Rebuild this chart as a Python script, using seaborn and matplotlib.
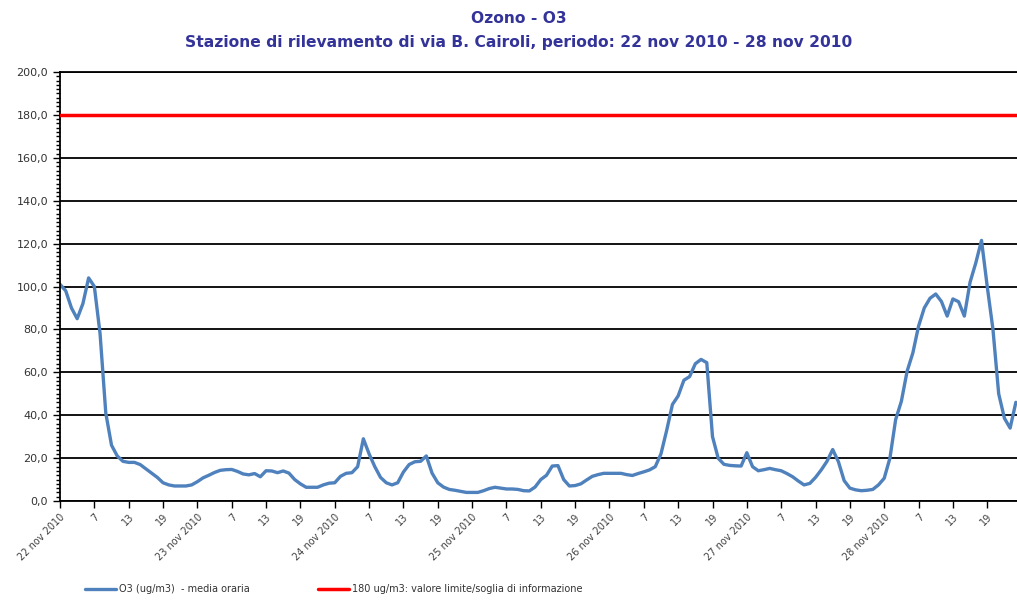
import numpy as np
import pandas as pd
import seaborn as sns
import matplotlib.pyplot as plt
from matplotlib.ticker import MultipleLocator, FuncFormatter

# ozone hourly means, 22 nov 2010 h1 -> 28 nov 2010 h24 (ug/m3)
o3_day22 = [101, 98, 90, 85, 92, 104, 100, 78, 41, 26, 21, 18.5,
            18, 18, 17, 15, 13, 11, 8.5, 7.5, 7, 7, 7, 7.5]
o3_day23 = [9, 10.8, 12, 13.3, 14.3, 14.6, 14.7, 13.8, 12.6, 12.2, 12.8, 11.3,
            14.1, 14, 13.2, 14, 13, 10, 8, 6.4, 6.4, 6.4, 7.5, 8.3]
o3_day24 = [8.5, 11.5, 12.9, 13.2, 16, 29, 22, 16, 11, 8.5, 7.5, 8.5,
            13.5, 17, 18.3, 18.5, 21, 13, 8.5, 6.5, 5.4, 5, 4.5, 4]
o3_day25 = [4, 4, 4.8, 5.8, 6.4, 6, 5.6, 5.6, 5.4, 4.8, 4.7, 6.5,
            10, 12, 16.3, 16.5, 10, 7, 7.2, 8, 9.8, 11.5, 12.3, 12.9]
o3_day26 = [12.9, 12.9, 12.9, 12.3, 11.9, 12.8, 13.6, 14.5, 16, 22, 33, 45,
            49, 56.3, 58, 64, 66, 64.5, 30, 19.9, 17.1, 16.6, 16.4, 16.3]
o3_day27 = [22.5, 16, 14.1, 14.6, 15.2, 14.6, 14.1, 12.8, 11.3, 9.3, 7.5, 8.2,
            11, 14.5, 18.5, 24, 18.3, 9.5, 6, 5.2, 4.8, 5, 5.4, 7.5]
o3_day28 = [10.6, 20, 38, 46.5, 60.5, 69, 81.5, 90, 94.5, 96.5, 93, 86.2,
            94.2, 92.9, 86.2, 102, 111, 121.5, 100, 80, 50, 38.6, 34, 46]

threshold = 180
days = ['22 nov 2010', '23 nov 2010', '24 nov 2010', '25 nov 2010',
        '26 nov 2010', '27 nov 2010', '28 nov 2010']
hour_marks = ['7', '13', '19']

title = "Ozono - O3\nStazione di rilevamento di via B. Cairoli, periodo: 22 nov 2010 - 28 nov 2010"
label_o3 = "O3 (ug/m3)  - media oraria"
label_thr = "180 ug/m3: valore limite/soglia di informazione"

o3 = o3_day22 + o3_day23 + o3_day24 + o3_day25 + o3_day26 + o3_day27 + o3_day28
df = pd.DataFrame({'ora': np.arange(len(o3)), 'o3': o3})

sns.set_style("white")
plt.rcParams['font.family'] = ['DejaVu Sans']

fig = plt.figure(figsize=(10.17, 6.0), dpi=100)
ax = fig.add_axes([0.059, 0.165, 0.941, 0.715])

sns.lineplot(data=df, x='ora', y='o3', ax=ax, color='#4F81BD', lw=2.4, label=label_o3)
ax.axhline(threshold, color='red', lw=2.5, label=label_thr, zorder=3)

# x axis: tick every 6 hours, date at hour 1
ticks = []
tick_labels = []
for d, day in enumerate(days):
    ticks += [d * 24, d * 24 + 6, d * 24 + 12, d * 24 + 18]
    tick_labels += [day] + hour_marks
ax.set_xticks(ticks)
ax.set_xticklabels(tick_labels, rotation=45, ha='right', rotation_mode='anchor',
                   fontsize=7, color='#404040')
ax.set_xlim(0, 167.2)

ax.set_ylim(0, 200)
ax.yaxis.set_major_locator(MultipleLocator(20))
ax.yaxis.set_minor_locator(MultipleLocator(2))
ax.yaxis.set_major_formatter(FuncFormatter(lambda v, p: f"{v:.1f}".replace('.', ',')))
ax.tick_params(axis='y', which='major', length=5, width=1, color='black', labelsize=8,
               labelcolor='#333333', direction='out', left=True)
ax.tick_params(axis='y', which='minor', length=3, width=1, color='black', direction='out', left=True)
ax.tick_params(axis='x', which='major', length=5, width=1, color='black', direction='out',
               bottom=True, pad=3)

ax.yaxis.grid(True, color='black', lw=1.3)
ax.set_axisbelow(True)
ax.set_xlabel('')
ax.set_ylabel('')
for side in ['left', 'bottom', 'top']:
    ax.spines[side].set_color('black')
    ax.spines[side].set_linewidth(1.3)
ax.spines['right'].set_visible(False)

handles, labels = ax.get_legend_handles_labels()
ax.get_legend().remove()
fig.legend(handles, labels, loc='lower left', bbox_to_anchor=(0.075, -0.005), ncol=2,
           frameon=False, fontsize=7, handlelength=3.2, handletextpad=0.3,
           columnspacing=7, labelcolor='#333333')

fig.suptitle(title, x=0.51, y=0.982, fontsize=11.2, fontweight='bold', color='#333399',
             linespacing=1.75)

fig.savefig('out.png', dpi=100)
